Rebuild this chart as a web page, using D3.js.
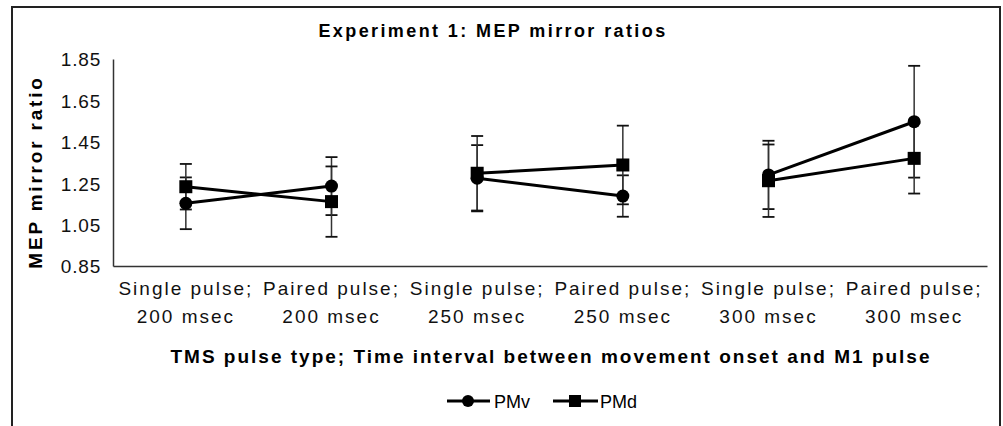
<!DOCTYPE html>
<meta charset="utf-8">
<title>Experiment 1: MEP mirror ratios</title>
<style>
body { margin: 0; background: #fff; font-family: 'Liberation Sans', Arial, sans-serif; }
svg { display: block; }
.axis path { stroke: #333; stroke-width: 1.5px; }
.axis text { font-size: 19px; fill: #111; font-family: 'Liberation Sans', Arial, sans-serif; }
</style>
<body>
<script src="https://d3js.org/d3.v7.min.js"></script>
<script>
// chart data
var categories = ["Single pulse;|200 msec", "Paired pulse;|200 msec", "Single pulse;|250 msec",
                  "Paired pulse;|250 msec", "Single pulse;|300 msec", "Paired pulse;|300 msec"];
var pmv = [1.153, 1.236, 1.274, 1.188, 1.29, 1.547];
var pmvErr = [0.125, 0.14, 0.16, 0.10, 0.165, 0.27];
var pmd = [1.233, 1.161, 1.298, 1.338, 1.262, 1.37];
var pmdErr = [0.11, 0.17, 0.18, 0.19, 0.175, 0.17];
var yTicks = [0.85, 1.05, 1.25, 1.45, 1.65, 1.85];

var width = 1003, height = 426;

var svg = d3.select("body").append("svg")
    .attr("width", width)
    .attr("height", height);

// outer frame (runs off the bottom)
svg.append("rect")
    .attr("x", 12).attr("y", 7)
    .attr("width", 988).attr("height", 440)
    .attr("fill", "none")
    .attr("stroke", "#222")
    .attr("stroke-width", 2);

var x = d3.scaleBand()
    .domain(categories)
    .range([113, 987]);

var y = d3.scaleLinear()
    .domain([0.85, 1.85])
    .range([266, 59]);

var cx = function(d, i) { return x(categories[i]) + x.bandwidth() / 2; };

// title
svg.append("text")
    .attr("x", 493).attr("y", 37)
    .attr("text-anchor", "middle")
    .attr("font-size", 18)
    .attr("font-weight", "bold")
    .style("letter-spacing", "2.4px")
    .text("Experiment 1: MEP mirror ratios");

// y axis
var yAxis = svg.append("g")
    .attr("class", "axis")
    .attr("transform", "translate(113,0)")
    .call(d3.axisLeft(y).tickValues(yTicks).tickSize(0).tickSizeOuter(0)
        .tickPadding(12).tickFormat(d3.format(".2f")));
yAxis.selectAll("text").style("letter-spacing", "0.8px").attr("dy", "0.36em");

// x axis
var xAxis = svg.append("g")
    .attr("class", "axis")
    .attr("transform", "translate(0,266)")
    .call(d3.axisBottom(x).tickSize(0).tickSizeOuter(0));
xAxis.selectAll("text").each(function(d) {
    var t = d3.select(this).text("").attr("dy", null).attr("y", 0);
    var parts = d.split("|");
    t.append("tspan").attr("x", 0).attr("y", 29).text(parts[0]);
    t.append("tspan").attr("x", 0).attr("y", 57).text(parts[1]);
}).style("letter-spacing", "2px");

// axis titles
svg.append("text")
    .attr("transform", "translate(42,172) rotate(-90)")
    .attr("text-anchor", "middle")
    .attr("font-size", 19)
    .attr("font-weight", "bold")
    .style("letter-spacing", "2.8px")
    .text("MEP mirror ratio");

svg.append("text")
    .attr("x", 551).attr("y", 363)
    .attr("text-anchor", "middle")
    .attr("font-size", 19)
    .attr("font-weight", "bold")
    .style("letter-spacing", "2px")
    .text("TMS pulse type; Time interval between movement onset and M1 pulse");

// series
var series = [
    { name: "PMv", values: pmv, err: pmvErr, shape: "circle" },
    { name: "PMd", values: pmd, err: pmdErr, shape: "square" }
];

series.forEach(function(s) {
    var g = svg.append("g");

    // error bars
    var eb = g.selectAll(".eb").data(s.values).enter().append("g");
    eb.append("line")
        .attr("x1", cx).attr("x2", cx)
        .attr("y1", function(d, i) { return y(d + s.err[i]); })
        .attr("y2", function(d, i) { return y(d - s.err[i]); })
        .attr("stroke", "#333").attr("stroke-width", 1.5);
    [1, -1].forEach(function(sign) {
        eb.append("line")
            .attr("x1", function(d, i) { return cx(d, i) - 6; })
            .attr("x2", function(d, i) { return cx(d, i) + 6; })
            .attr("y1", function(d, i) { return y(d + sign * s.err[i]); })
            .attr("y2", function(d, i) { return y(d + sign * s.err[i]); })
            .attr("stroke", "#111").attr("stroke-width", 1.8);
    });
});

series.forEach(function(s) {
    var g = svg.append("g");

    // one segment per time interval: single -> paired
    var pairs = d3.range(0, s.values.length, 2);
    g.selectAll("line.seg").data(pairs).enter().append("line")
        .attr("class", "seg")
        .attr("x1", function(k) { return cx(null, k); })
        .attr("x2", function(k) { return cx(null, k + 1); })
        .attr("y1", function(k) { return y(s.values[k]); })
        .attr("y2", function(k) { return y(s.values[k + 1]); })
        .attr("stroke", "#000")
        .attr("stroke-width", 3);

    if (s.shape == "circle") {
        g.selectAll("circle").data(s.values).enter().append("circle")
            .attr("cx", cx).attr("cy", function(d) { return y(d); })
            .attr("r", 6.5).attr("fill", "#000");
    } else {
        g.selectAll("rect").data(s.values).enter().append("rect")
            .attr("x", function(d, i) { return cx(d, i) - 6.5; })
            .attr("y", function(d) { return y(d) - 6.5; })
            .attr("width", 13).attr("height", 13)
            .attr("fill", "#000");
    }
});

// legend
var leg = svg.append("g").attr("transform", "translate(0,401)");
leg.append("line").attr("x1", 447).attr("x2", 490).attr("stroke", "#000").attr("stroke-width", 3);
leg.append("circle").attr("cx", 468).attr("r", 6).attr("fill", "#000");
leg.append("text").attr("x", 494).attr("y", 6.5).attr("font-size", 18).text("PMv");
leg.append("line").attr("x1", 553).attr("x2", 598).attr("stroke", "#000").attr("stroke-width", 3);
leg.append("rect").attr("x", 569).attr("y", -6).attr("width", 12).attr("height", 12).attr("fill", "#000");
leg.append("text").attr("x", 600).attr("y", 6.5).attr("font-size", 18).text("PMd");
</script>
</body>
